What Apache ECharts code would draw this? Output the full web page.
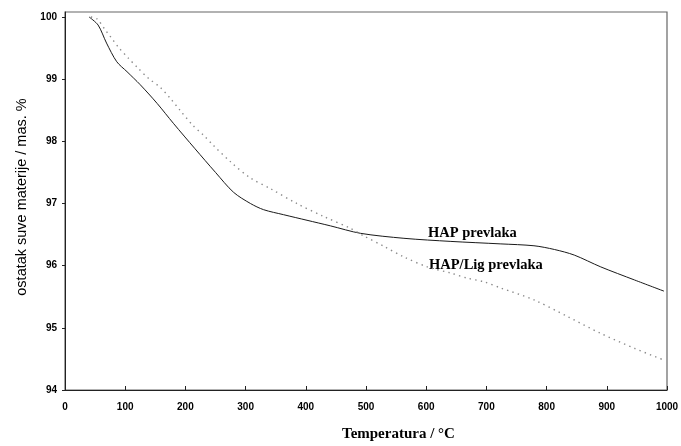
<!DOCTYPE html>
<html>
<head>
<meta charset="utf-8">
<script src="https://cdn.jsdelivr.net/npm/echarts@6/dist/echarts.min.js"></script>
<style>
  html, body { margin: 0; padding: 0; background: #fff; }
  #chart { width: 681px; height: 446px; }
</style>
</head>
<body>
<div id="chart"></div>
<script>
// TGA curves: residual dry matter vs temperature
const hapTemps = [40, 55, 69, 86, 103, 125, 153, 180, 216, 250, 280, 308, 330, 363, 402, 441, 491, 563, 641, 724, 779, 813, 846, 890, 946, 995];
const hapMass  = [100, 99.87, 99.58, 99.28, 99.12, 98.91, 98.61, 98.29, 97.88, 97.5, 97.18, 97.0, 96.9, 96.82, 96.73, 96.64, 96.52, 96.44, 96.39, 96.35, 96.32, 96.26, 96.17, 95.98, 95.77, 95.59];

const ligTemps = [43, 53, 67, 75, 89, 105, 122, 139, 158, 175, 191, 213, 230, 247, 275, 308, 341, 385, 430, 474, 496, 530, 563, 602, 641, 668, 696, 724, 779, 835, 890, 946, 995];
const ligMass  = [100, 99.97, 99.79, 99.69, 99.51, 99.34, 99.17, 99.01, 98.87, 98.69, 98.5, 98.25, 98.1, 97.93, 97.67, 97.41, 97.24, 97.0, 96.79, 96.6, 96.48, 96.31, 96.14, 95.98, 95.88, 95.8, 95.74, 95.64, 95.45, 95.18, 94.91, 94.67, 94.48];

const xTicks = [0, 100, 200, 300, 400, 500, 600, 700, 800, 900, 1000];
const yTicks = [94, 95, 96, 97, 98, 99, 100];

const seriesNames = ['HAP prevlaka', 'HAP/Lig prevlaka'];
const xTitle = 'Temperatura / °C';
const yTitle = 'ostatak suve materije / mas. %';

const pair = (xs, ys) => xs.map((x, i) => [x, ys[i]]);

const chart = echarts.init(document.getElementById('chart'), null, { renderer: 'canvas' });

const tickFont = { fontFamily: 'Liberation Sans', fontWeight: 'bold', fontSize: 10, color: '#000' };

chart.setOption({
  animation: false,
  backgroundColor: '#fff',
  grid: {
    left: 65, right: 14, top: 12, bottom: 56,
    outerBoundsMode: 'none',
    containLabel: false,
    show: true, borderColor: '#666', borderWidth: 1.2, backgroundColor: 'transparent'
  },
  xAxis: {
    type: 'value',
    min: xTicks[0], max: xTicks[xTicks.length - 1], interval: 100,
    axisLine: { show: true, lineStyle: { color: '#222', width: 1 } },
    axisTick: { show: true, inside: true, length: 4, lineStyle: { color: '#222' } },
    axisLabel: Object.assign({ margin: 12, formatter: v => String(v) }, tickFont),
    splitLine: { show: false }
  },
  yAxis: {
    type: 'value',
    min: yTicks[0], max: 100.08, interval: 1,
    name: yTitle,
    nameLocation: 'middle', nameGap: 33, nameRotate: 90,
    nameTextStyle: { fontFamily: 'Liberation Sans', fontSize: 14.5, color: '#000', padding: [0, 0, 0, 8] },
    axisLine: { show: true, lineStyle: { color: '#222', width: 1 } },
    axisTick: { show: true, length: 3, lineStyle: { color: '#222' } },
    axisLabel: Object.assign({ margin: 8, showMaxLabel: false, formatter: v => String(v) }, tickFont),
    splitLine: { show: false }
  },
  series: [
    {
      name: seriesNames[0],
      type: 'line',
      data: pair(hapTemps, hapMass),
      smooth: 0.3,
      symbol: 'none',
      lineStyle: { color: '#1a1a1a', width: 1 }
    },
    {
      name: seriesNames[1],
      type: 'line',
      data: pair(ligTemps, ligMass),
      smooth: 0.3,
      symbol: 'none',
      lineStyle: { color: '#8a8a8a', width: 1.4, type: [1.4, 4.2] }
    }
  ],
  graphic: [
    {
      type: 'text', left: 342, top: 427,
      style: { text: xTitle, font: 'bold 15px "Liberation Serif"', fill: '#000' }
    },
    {
      type: 'text', left: 428, top: 226,
      style: { text: seriesNames[0], font: 'bold 14.5px "Liberation Serif"', fill: '#000' }
    },
    {
      type: 'text', left: 429, top: 258,
      style: { text: seriesNames[1], font: 'bold 14.5px "Liberation Serif"', fill: '#000' }
    }
  ]
});
</script>
</body>
</html>
